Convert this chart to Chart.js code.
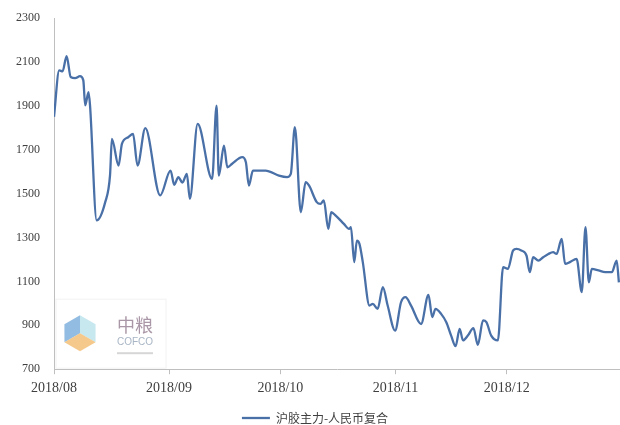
<!DOCTYPE html>
<html>
<head>
<meta charset="utf-8">
<script src="https://cdn.jsdelivr.net/npm/chart.js@4"></script>
<style>
  html, body { margin: 0; padding: 0; background: #fff; }
  #wrap { width: 620px; height: 425px; }
</style>
</head>
<body>
<div id="wrap"><canvas id="lineChart"></canvas></div>
<script>
// days counted from 2018-08-01
const days = [0, 1.4, 2.3, 3.4, 4.5, 5.7, 7, 7.9, 8.4, 9.3, 9.7, 11.5, 13.8, 15.1, 15.6, 17.4, 18.3, 20, 21.3, 22.5,
  24.6, 28.6, 31.4, 32.4, 33.5, 34.6, 35.8, 36.6, 38.7, 42.6, 43.8, 44.4, 45.8, 46.7, 48, 50.7, 51.7, 52.5, 53.6, 57,
  60.6, 62.8, 63.8, 64.9, 66.5, 67.8, 68.7, 70.8, 71.8, 72.7, 73.9, 74.7, 75.9, 78.1, 79.5, 80, 80.9, 81.6, 82.3, 83.2,
  85, 85.9, 87.2, 88.6, 89.9, 91.9, 93.5, 94.7, 96.2, 98.9, 100.9, 101.9, 102.8, 104.3, 105.7, 107, 108.2, 109.3, 110.2, 111.5,
  113, 114.2, 115.6, 116.5, 117.8, 119.6, 121, 122.3, 123.7, 124.6, 125.9, 127.3, 128.2, 129.1, 130.5, 131.8, 133.2, 134.5, 135.4, 136.8,
  137.7, 139, 140.8, 142.2, 143.2, 144.1, 144.9, 146.7, 148.5, 150.3, 151.6, 152.2];
const values = [1850, 2061, 2057, 2126, 2031, 2026, 2035, 2016, 1902, 1962, 1903, 1378, 1461, 1584, 1749, 1628, 1727, 1757, 1772, 1628,
  1798, 1492, 1605, 1540, 1575, 1550, 1590, 1476, 1818, 1567, 1901, 1582, 1719, 1620, 1636, 1666, 1643, 1537, 1605, 1605,
  1582, 1575, 1590, 1803, 1415, 1552, 1537, 1461, 1453, 1469, 1339, 1415, 1400, 1362, 1339, 1347, 1188, 1286, 1271, 1188,
  990, 998, 975, 1074, 990, 876, 1005, 1028, 990, 906, 1039, 937, 975, 952, 914, 853, 805, 884, 831, 853,
  887, 811, 922, 914, 853, 831, 1165, 1157, 1241, 1248, 1241, 1218, 1142, 1210, 1195, 1210, 1225, 1233, 1225, 1294,
  1180, 1188, 1203, 1051, 1347, 1096, 1157, 1150, 1142, 1142, 1195, 1096];
const monthTicks = [0, 31, 61, 92, 122];
const monthLabels = ['2018/08', '2018/09', '2018/10', '2018/11', '2018/12'];
const seriesName = '沪胶主力-人民币复合';

const points = days.map((d, i) => ({ x: d, y: values[i] }));

// faint COFCO watermark in the lower left of the plot
const watermark = {
    id: 'watermark',
    beforeDatasetsDraw(chart) {
        const { ctx, chartArea } = chart;
        const x0 = chartArea.left, y1 = chartArea.bottom;
        ctx.save();
        ctx.globalAlpha = 0.75;
        ctx.strokeStyle = '#eeeeee';
        ctx.lineWidth = 1;
        ctx.strokeRect(x0 + 2, y1 - 70, 110, 69);
        const cx = x0 + 26, cy = y1 - 36, r = 18;
        const p = [];
        for (let k = 0; k < 6; k++) {
            const a = Math.PI / 180 * (60 * k - 90);
            p.push([cx + r * Math.cos(a), cy + r * Math.sin(a)]);
        }
        const face = (pts, color) => {
            ctx.beginPath();
            ctx.moveTo(pts[0][0], pts[0][1]);
            pts.slice(1).forEach(q => ctx.lineTo(q[0], q[1]));
            ctx.closePath();
            ctx.fillStyle = color;
            ctx.fill();
        };
        const c = [cx, cy];
        face([p[4], p[5], p[0], c], '#6fa6d8');
        face([p[0], p[1], p[2], c], '#b6e0ea');
        face([p[2], p[3], p[4], c], '#f2b766');
        ctx.fillStyle = '#8c7388';
        ctx.font = '18px "Noto Sans CJK SC"';
        ctx.textBaseline = 'middle';
        ctx.fillText('中粮', x0 + 63, y1 - 44);
        ctx.fillStyle = '#8a9bb0';
        ctx.font = '10px "Liberation Sans"';
        ctx.fillText('COFCO', x0 + 63, y1 - 27);
        ctx.fillStyle = '#c8c8c8';
        ctx.fillRect(x0 + 63, y1 - 17, 36, 2);
        ctx.restore();
    }
};

const ctxLine = document.getElementById('lineChart').getContext('2d');
const lineChart = new Chart(ctxLine, {
    type: 'line',
    data: {
        datasets: [{
            label: seriesName,
            data: points,
            borderColor: '#4a70a8',
            backgroundColor: '#4a70a8',
            borderWidth: 2.3,
            pointRadius: 0,
            cubicInterpolationMode: 'monotone',
            fill: false
        }]
    },
    options: {
        responsive: true,
        maintainAspectRatio: false,
        animation: false,
        layout: { padding: { left: 10, top: 18, right: 0, bottom: -9 } },
        scales: {
            x: {
                type: 'linear',
                min: 0,
                max: 152.5,
                afterBuildTicks: axis => {
                    axis.ticks = monthTicks.map(v => ({ value: v }));
                },
                afterFit: axis => { axis.height += 6; },
                ticks: {
                    autoSkip: false,
                    maxRotation: 0,
                    padding: 6,
                    color: '#404040',
                    font: { family: '"Liberation Serif"', size: 14 },
                    callback: v => monthLabels[monthTicks.indexOf(v)]
                },
                grid: { display: true, drawOnChartArea: false, drawTicks: true, tickLength: 5, color: '#bfbfbf' },
                border: { display: true, color: '#bfbfbf' }
            },
            y: {
                min: 700,
                max: 2300,
                ticks: {
                    stepSize: 200,
                    padding: 6,
                    color: '#404040',
                    font: { family: '"Liberation Serif"', size: 12 },
                    callback: v => String(v)
                },
                grid: { display: false },
                border: { display: true, color: '#bfbfbf' }
            }
        },
        plugins: {
            legend: {
                position: 'bottom',
                labels: {
                    usePointStyle: true,
                    pointStyle: 'line',
                    pointStyleWidth: 28,
                    color: '#404040',
                    padding: 3,
                    font: { family: '"Noto Sans CJK SC"', size: 12 }
                }
            },
            tooltip: { enabled: false }
        }
    },
    plugins: [watermark]
});
</script>
</body>
</html>
